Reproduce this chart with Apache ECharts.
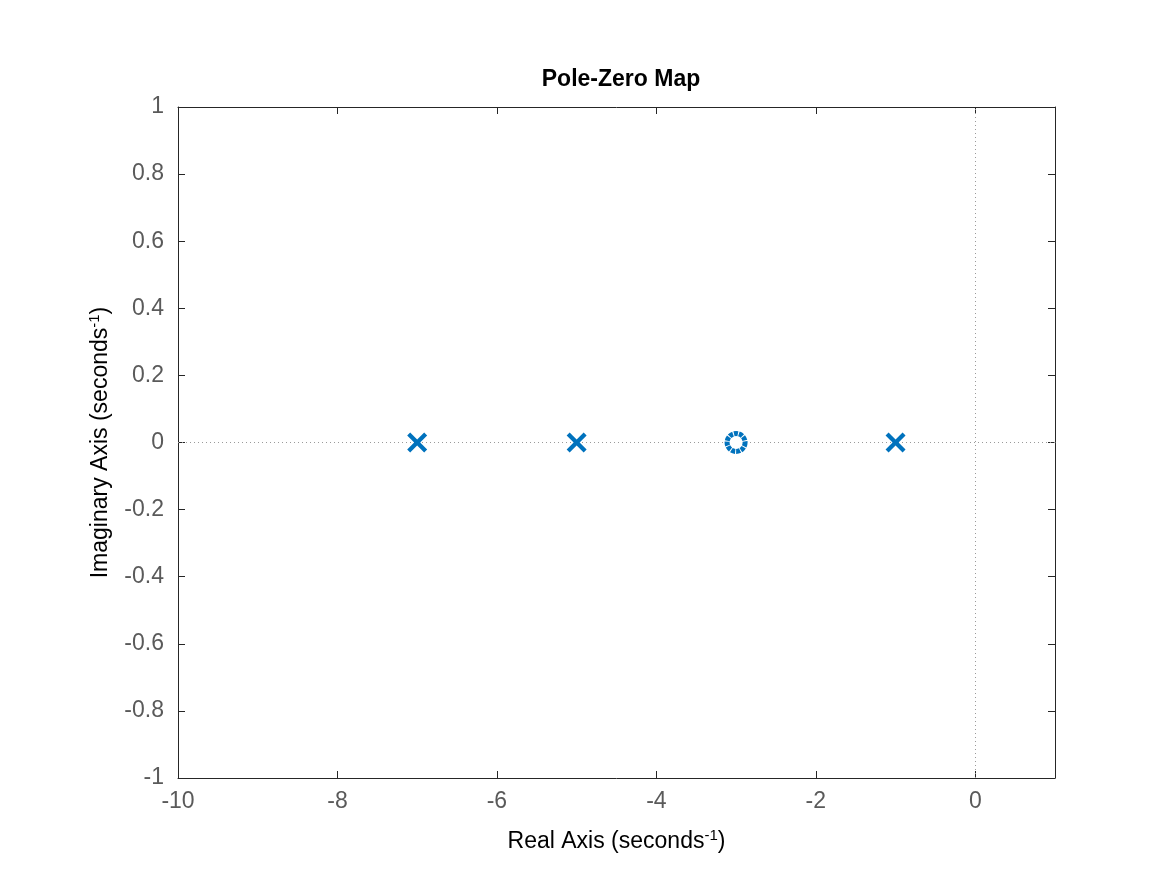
<!DOCTYPE html>
<html><head><meta charset="utf-8">
<script src="https://cdn.jsdelivr.net/npm/echarts@6/dist/echarts.min.js"></script>
<style>html,body{margin:0;padding:0;background:#fff}#c{width:1167px;height:875px}</style>
</head><body><div id="c"></div>
<script>
const poles = [[-7,0],[-5,0],[-1,0]];
const zeros = [[-3,0]];
const xTicks = {min:-10,max:1,interval:2};
const yTicks = {min:-1,max:1,interval:0.2};
const chart = echarts.init(document.getElementById('c'));
const font = 'Helvetica, Arial, "Liberation Sans", sans-serif';
const lblStyle = {color:'#5a5a5a',fontSize:23,fontFamily:font};
const axLine = {show:true,onZero:false,lineStyle:{color:'#262626',width:1}};
const nameRich = {rich:{a:{fontSize:23,color:'#000',fontFamily:font},s:{fontSize:15,color:'#000',fontFamily:font,verticalAlign:'top',padding:[0,0,12,0]}}};
function xaxis(pos,show){return {type:'value',position:pos,min:xTicks.min,max:xTicks.max,interval:xTicks.interval,
  axisLine:axLine,axisTick:{show:true,inside:true,length:7,lineStyle:{color:'#262626'}},
  axisLabel:{show:show,...lblStyle,margin:12,formatter:v=>v>0?'':String(v)},
  splitLine:{show:false}};}
function yaxis(pos,show){return {type:'value',position:pos,min:yTicks.min,max:yTicks.max,interval:yTicks.interval,
  axisLine:axLine,axisTick:{show:true,inside:true,length:7,lineStyle:{color:'#262626'}},
  axisLabel:{show:show,...lblStyle,margin:14,formatter:v=>String(Math.round(v*10)/10)},
  splitLine:{show:false}};}
const xa0 = xaxis('bottom',true);
xa0.name='{a|Real Axis (seconds}{s|-1}{a|)}';xa0.nameLocation='middle';xa0.nameGap=50;xa0.nameTextStyle=nameRich;
const ya0 = yaxis('left',true);
ya0.name='{a|Imaginary Axis (seconds}{s|-1}{a|)}';ya0.nameLocation='middle';ya0.nameGap=64;ya0.nameTextStyle=nameRich;
chart.setOption({
  animation:false,
  title:{text:'Pole-Zero Map',left:616,textAlign:'center',top:63,textStyle:{fontSize:23,fontWeight:'bold',color:'#000',fontFamily:font}},
  grid:{left:178,right:112,top:107,bottom:97},
  xAxis:[xa0,xaxis('top',false)],
  yAxis:[ya0,yaxis('right',false)],
  series:[
    {type:'scatter',data:poles,symbol:'path://M-1,-0.7 L-0.7,-1 L0,-0.3 L0.7,-1 L1,-0.7 L0.3,0 L1,0.7 L0.7,1 L0,0.3 L-0.7,1 L-1,0.7 L-0.3,0 Z',
     symbolSize:20,itemStyle:{color:'#0072bd',opacity:1},z:3,
     markLine:{silent:true,symbol:'none',label:{show:false},lineStyle:{color:'#9a9a9a',type:[1,3],width:1},z:1,
       data:[{xAxis:0},{yAxis:0}]}},
    {type:'scatter',data:zeros,symbol:'circle',symbolSize:18,z:3,
     itemStyle:{color:'#fff',opacity:1,borderColor:'#0072bd',borderWidth:5,borderType:[4,1]}}
  ]
});
</script></body></html>
